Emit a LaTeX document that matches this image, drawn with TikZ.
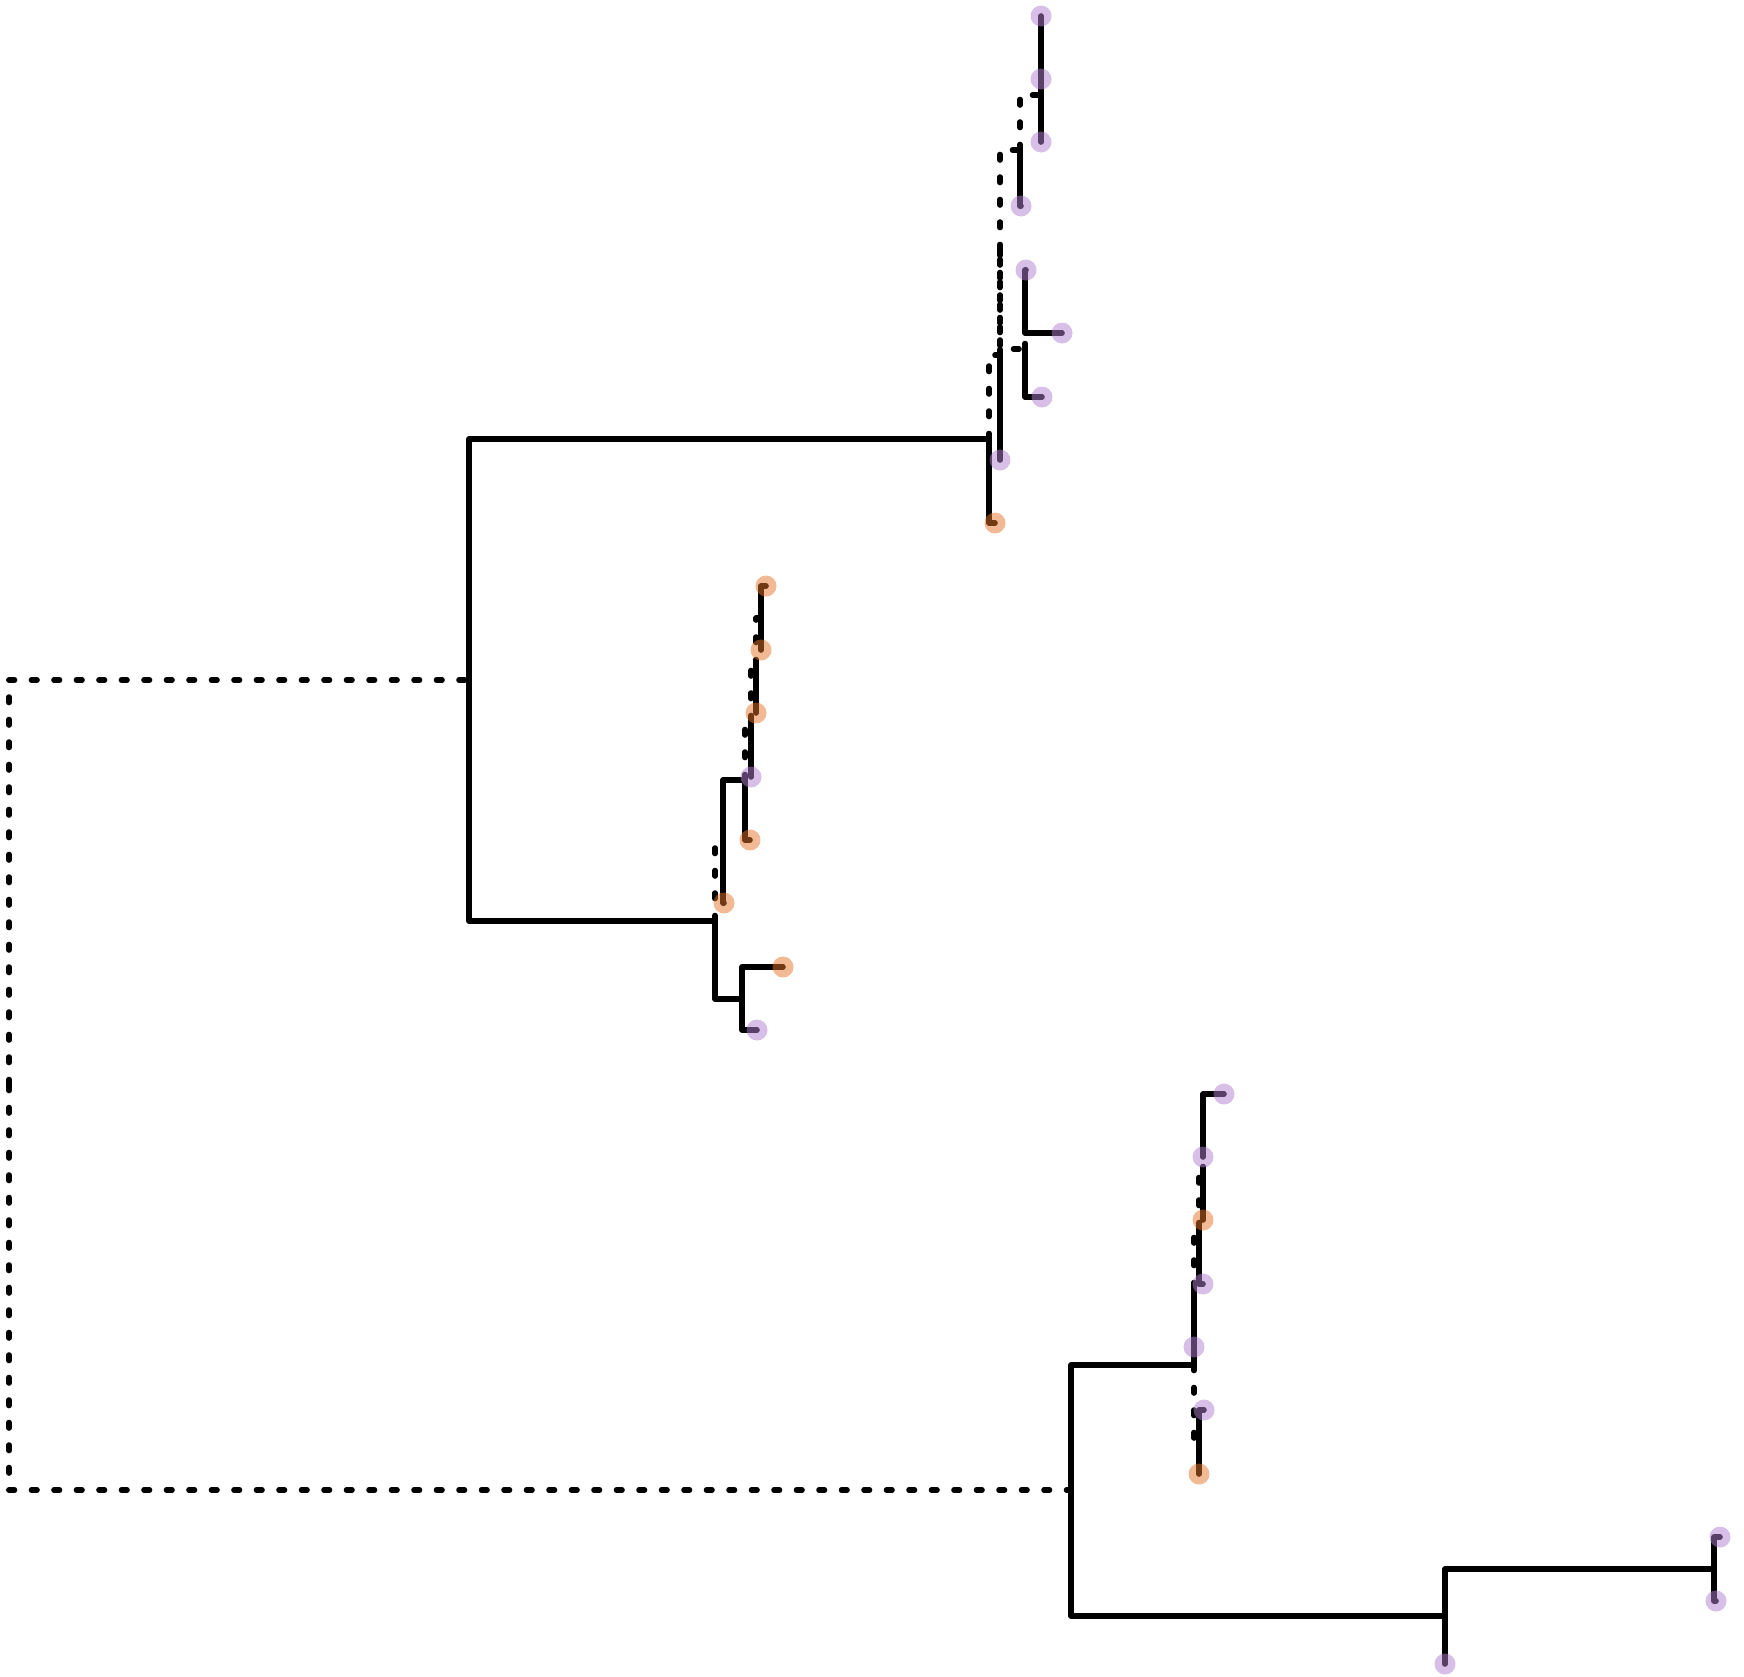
\documentclass[tikz,border=0pt]{standalone}
\definecolor{tippur}{RGB}{176,128,208}
\definecolor{tiporg}{RGB}{229,117,41}
\tikzset{
  edge/.style={line width=5.6pt, line cap=round, line join=round},
  dedge/.style={edge, dash pattern=on 5.5pt off 17pt},
  tipdot/.style={circle, inner sep=0pt, minimum size=21pt, fill opacity=0.5},
  pur/.style={tipdot, fill=tippur},
  org/.style={tipdot, fill=tiporg}
}
\begin{document}
\begin{tikzpicture}[x=1pt,y=-1pt]
\useasboundingbox (0,0) rectangle (1744,1676);
% internal nodes
\coordinate (r0) at (9,1085);
\coordinate (A) at (469,680);
\coordinate (B) at (989,439);
\coordinate (C) at (1000,355);
\coordinate (I) at (1000,250);
\coordinate (F) at (1020,150);
\coordinate (G) at (1041,95);
\coordinate (H) at (1041,48);
\coordinate (E) at (1025,349);
\coordinate (K) at (1025,302);
\coordinate (L) at (715,921);
\coordinate (O) at (723,842);
\coordinate (R4) at (745,780);
\coordinate (R3) at (751,721);
\coordinate (R2) at (756,665);
\coordinate (R1) at (761,618);
\coordinate (N) at (742,999);
\coordinate (S) at (1071,1490);
\coordinate (W) at (1194,1365);
\coordinate (Z4) at (1194,1288);
\coordinate (Z3) at (1199,1228);
\coordinate (Z2) at (1203,1172);
\coordinate (Z1) at (1203,1125);
\coordinate (X) at (1199,1442);
\coordinate (U) at (1445,1616);
\coordinate (V) at (1714,1569);
% tips
\coordinate (t1) at (1041,16);
\coordinate (t2) at (1041,79);
\coordinate (t3) at (1041,142);
\coordinate (t4) at (1021,206);
\coordinate (t5) at (1026,270);
\coordinate (t6) at (1062,333);
\coordinate (t7) at (1042,397);
\coordinate (t8) at (1000,460);
\coordinate (t9) at (995,523);
\coordinate (t10) at (766,586);
\coordinate (t11) at (761,650);
\coordinate (t12) at (756,713);
\coordinate (t13) at (751,777);
\coordinate (t14) at (750,840);
\coordinate (t15) at (724,903);
\coordinate (t16) at (783,967);
\coordinate (t17) at (757,1030);
\coordinate (t18) at (1224,1094);
\coordinate (t19) at (1203,1157);
\coordinate (t20) at (1203,1220);
\coordinate (t21) at (1203,1284);
\coordinate (t22) at (1194,1347);
\coordinate (t23) at (1204,1410);
\coordinate (t24) at (1199,1474);
\coordinate (t25) at (1720,1537);
\coordinate (t26) at (1716,1601);
\coordinate (t27) at (1445,1664);
% dashed edges
\draw[dedge] (r0) |- (A);
\draw[dedge] (r0) |- (S);
\draw[dedge] (B) |- (C);
\draw[dedge] (C) |- (I);
\draw[dedge] (I) |- (F);
\draw[dedge] (I) |- (E);
\draw[dedge] (F) |- (G);
\draw[dedge] (E) |- (K);
\draw[dedge] (L) |- (O);
\draw[dedge] (R4) |- (R3);
\draw[dedge] (R3) |- (R2);
\draw[dedge] (R2) |- (R1);
\draw[dedge] (W) |- (X);
\draw[dedge] (Z4) |- (Z3);
\draw[dedge] (Z3) |- (Z2);
\draw[dedge] (Z2) |- (Z1);
% solid edges
\draw[edge] (A) |- (B);
\draw[edge] (A) |- (L);
\draw[edge] (B) |- (t9);
\draw[edge] (C) |- (t8);
\draw[edge] (F) |- (t4);
\draw[edge] (G) |- (H);
\draw[edge] (G) |- (t3);
\draw[edge] (H) |- (t1);
\draw[edge] (H) |- (t2);
\draw[edge] (E) |- (t7);
\draw[edge] (K) |- (t5);
\draw[edge] (K) |- (t6);
\draw[edge] (L) |- (N);
\draw[edge] (O) |- (R4);
\draw[edge] (O) |- (t15);
\draw[edge] (R4) |- (t14);
\draw[edge] (R3) |- (t13);
\draw[edge] (R2) |- (t12);
\draw[edge] (R1) |- (t10);
\draw[edge] (R1) |- (t11);
\draw[edge] (N) |- (t16);
\draw[edge] (N) |- (t17);
\draw[edge] (S) |- (W);
\draw[edge] (S) |- (U);
\draw[edge] (W) |- (Z4);
\draw[edge] (Z4) |- (t22);
\draw[edge] (Z3) |- (t21);
\draw[edge] (Z2) |- (t20);
\draw[edge] (Z1) |- (t18);
\draw[edge] (Z1) |- (t19);
\draw[edge] (X) |- (t23);
\draw[edge] (X) |- (t24);
\draw[edge] (U) |- (V);
\draw[edge] (U) |- (t27);
\draw[edge] (V) |- (t25);
\draw[edge] (V) |- (t26);
% tip markers
\node[pur] (c1) at (t1) {};
\node[pur] (c2) at (t2) {};
\node[pur] (c3) at (t3) {};
\node[pur] (c4) at (t4) {};
\node[pur] (c5) at (t5) {};
\node[pur] (c6) at (t6) {};
\node[pur] (c7) at (t7) {};
\node[pur] (c8) at (t8) {};
\node[org] (c9) at (t9) {};
\node[org] (c10) at (t10) {};
\node[org] (c11) at (t11) {};
\node[org] (c12) at (t12) {};
\node[pur] (c13) at (t13) {};
\node[org] (c14) at (t14) {};
\node[org] (c15) at (t15) {};
\node[org] (c16) at (t16) {};
\node[pur] (c17) at (t17) {};
\node[pur] (c18) at (t18) {};
\node[pur] (c19) at (t19) {};
\node[org] (c20) at (t20) {};
\node[pur] (c21) at (t21) {};
\node[pur] (c22) at (t22) {};
\node[pur] (c23) at (t23) {};
\node[org] (c24) at (t24) {};
\node[pur] (c25) at (t25) {};
\node[pur] (c26) at (t26) {};
\node[pur] (c27) at (t27) {};
\end{tikzpicture}
\end{document}
